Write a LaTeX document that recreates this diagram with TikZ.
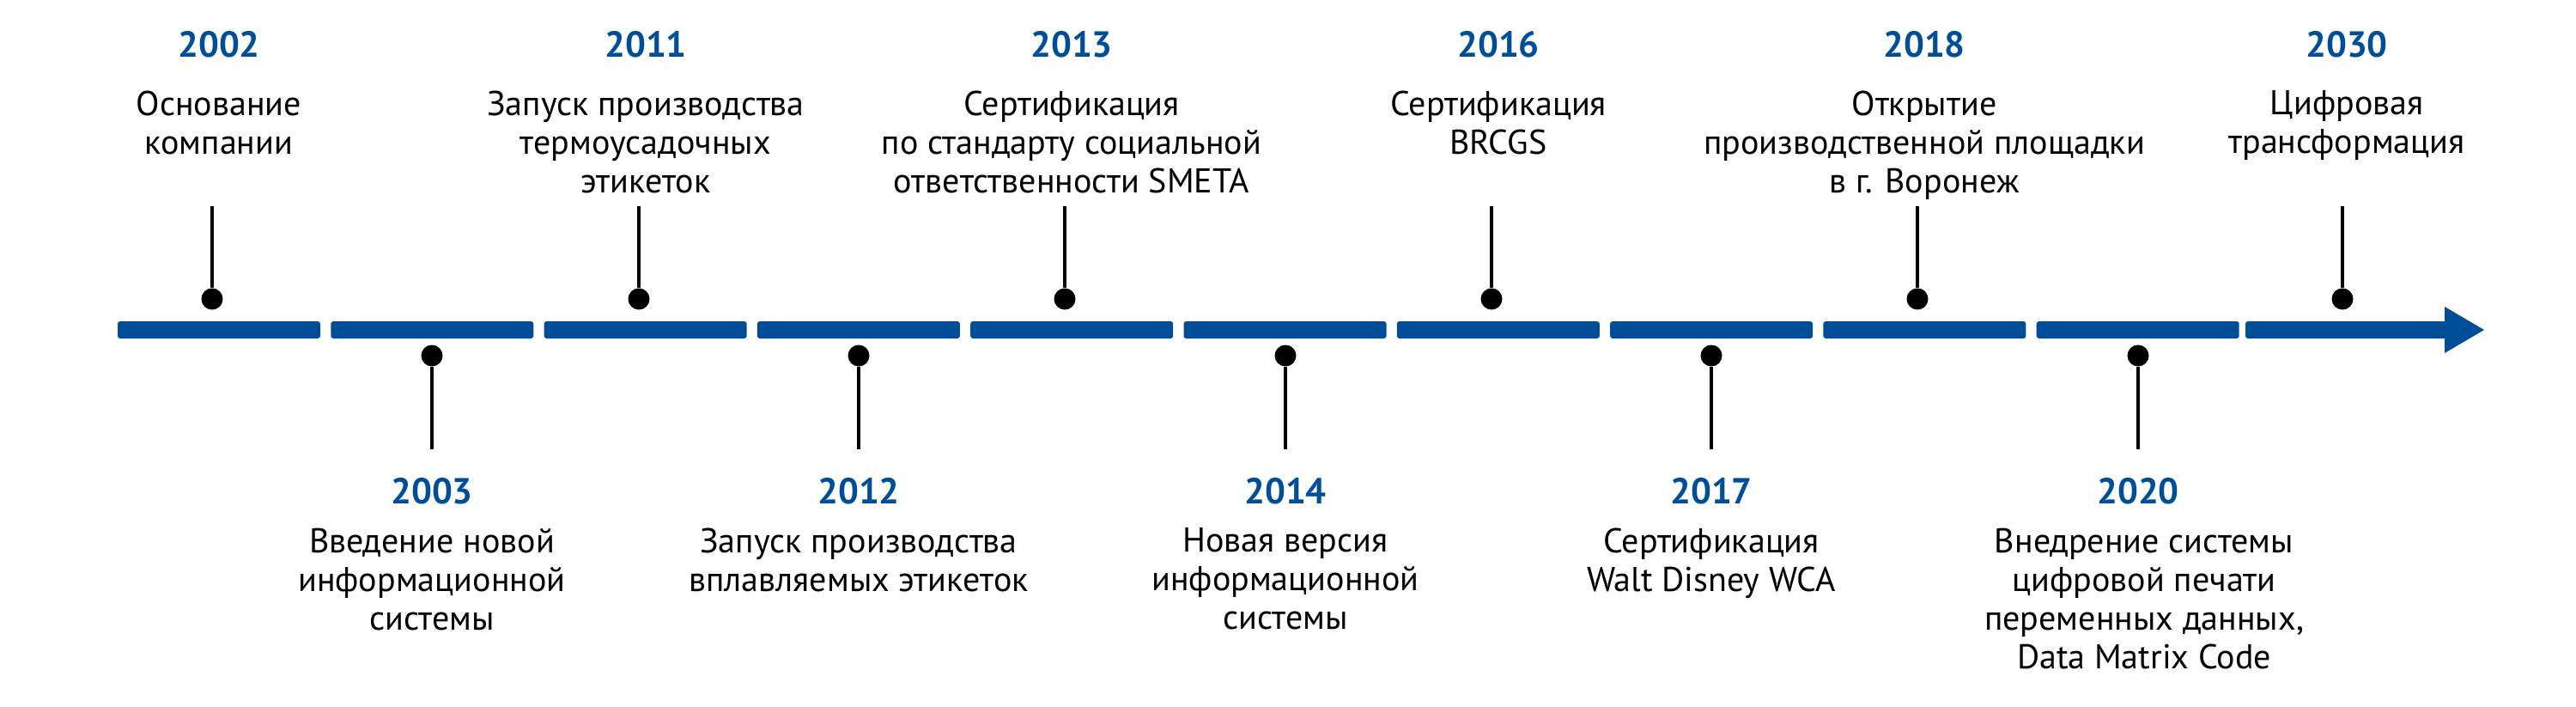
\documentclass[tikz,border=0pt]{standalone}
\usepackage{fontspec}
\setmainfont{PT Sans}
\usepackage{xcolor}
\usepackage{tikz}
\usetikzlibrary{positioning,calc}
\definecolor{tlBlue}{HTML}{004E98}
\definecolor{tlInk}{HTML}{000000}

\begin{document}
\begin{tikzpicture}[
  year/.style={font=\fontsize{12}{14}\selectfont\bfseries, text=tlBlue, inner sep=0pt},
  note/.style={font=\fontsize{11.4}{12.8}\selectfont, text=tlInk, align=center, anchor=north, inner sep=0pt, execute at begin node=\strut},
  seg/.style={fill=tlBlue, rounded corners=0.03cm},
  pin/.style={circle, fill=tlInk, inner sep=0pt, minimum size=0.25cm},
  stem/.style={draw=tlInk, line width=0.04cm}]
\useasboundingbox (0,3.84) rectangle (30,-4.38);
% timeline bar
\foreach \k in {0,...,9}
  \fill[seg] ({1.37+2.483*\k},-0.10) rectangle ++(2.36,0.20);
\fill[seg] (26.15,-0.10) rectangle (28.50,0.10);
\fill[tlBlue] (28.47,0.27) -- (28.93,0) -- (28.47,-0.27) -- cycle;

% events above the bar
\node[year] (y2002) at (2.55,3.32) {2002};
\node[note] (t2002) at (2.55,2.79) {Основание\\компании};
\node[pin] (p2002) at (2.47,0.36) {};
\coordinate (s2002) at (2.47,1.44);
\draw[stem] (s2002) -- (p2002);

\node[year] (y2011) at (7.52,3.32) {2011};
\node[note] (t2011) at (7.52,2.79) {Запуск производства\\термоусадочных\\этикеток};
\node[pin] (p2011) at (7.44,0.36) {};
\coordinate (s2011) at (7.44,1.44);
\draw[stem] (s2011) -- (p2011);

\node[year] (y2013) at (12.48,3.32) {2013};
\node[note] (t2013) at (12.48,2.79) {Сертификация\\по стандарту социальной\\ответственности SMETA};
\node[pin] (p2013) at (12.40,0.36) {};
\coordinate (s2013) at (12.40,1.44);
\draw[stem] (s2013) -- (p2013);

\node[year] (y2016) at (17.45,3.32) {2016};
\node[note] (t2016) at (17.45,2.79) {Сертификация\\BRCGS};
\node[pin] (p2016) at (17.37,0.36) {};
\coordinate (s2016) at (17.37,1.44);
\draw[stem] (s2016) -- (p2016);

\node[year] (y2018) at (22.41,3.32) {2018};
\node[note] (t2018) at (22.41,2.79) {Открытие\\производственной площадки\\в г. Воронеж};
\node[pin] (p2018) at (22.33,0.36) {};
\coordinate (s2018) at (22.33,1.44);
\draw[stem] (s2018) -- (p2018);

\node[year] (y2030) at (27.33,3.32) {2030};
\node[note] (t2030) at (27.33,2.79) {Цифровая\\трансформация};
\node[pin] (p2030) at (27.28,0.36) {};
\coordinate (s2030) at (27.28,1.44);
\draw[stem] (s2030) -- (p2030);

% events below the bar
\node[pin] (p2003) at (5.03,-0.30) {};
\coordinate (s2003) at (5.03,-1.39);
\draw[stem] (p2003) -- (s2003);
\node[year] (y2003) at (5.03,-1.88) {2003};
\node[note] (t2003) at (5.03,-2.30) {Введение новой\\информационной\\системы};

\node[pin] (p2012) at (10.00,-0.30) {};
\coordinate (s2012) at (10.00,-1.39);
\draw[stem] (p2012) -- (s2012);
\node[year] (y2012) at (10.00,-1.88) {2012};
\node[note] (t2012) at (10.00,-2.30) {Запуск производства\\вплавляемых этикеток};

\node[pin] (p2014) at (14.97,-0.30) {};
\coordinate (s2014) at (14.97,-1.39);
\draw[stem] (p2014) -- (s2014);
\node[year] (y2014) at (14.97,-1.88) {2014};
\node[note] (t2014) at (14.97,-2.30) {Новая версия\\информационной\\системы};

\node[pin] (p2017) at (19.93,-0.30) {};
\coordinate (s2017) at (19.93,-1.39);
\draw[stem] (p2017) -- (s2017);
\node[year] (y2017) at (19.93,-1.88) {2017};
\node[note] (t2017) at (19.93,-2.30) {Сертификация\\Walt Disney WCA};

\node[pin] (p2020) at (24.90,-0.30) {};
\coordinate (s2020) at (24.90,-1.39);
\draw[stem] (p2020) -- (s2020);
\node[year] (y2020) at (24.90,-1.88) {2020};
\node[note] (t2020) at (24.97,-2.30) {Внедрение системы\\цифровой печати\\переменных данных,\\Data Matrix Code};
\end{tikzpicture}
\end{document}
